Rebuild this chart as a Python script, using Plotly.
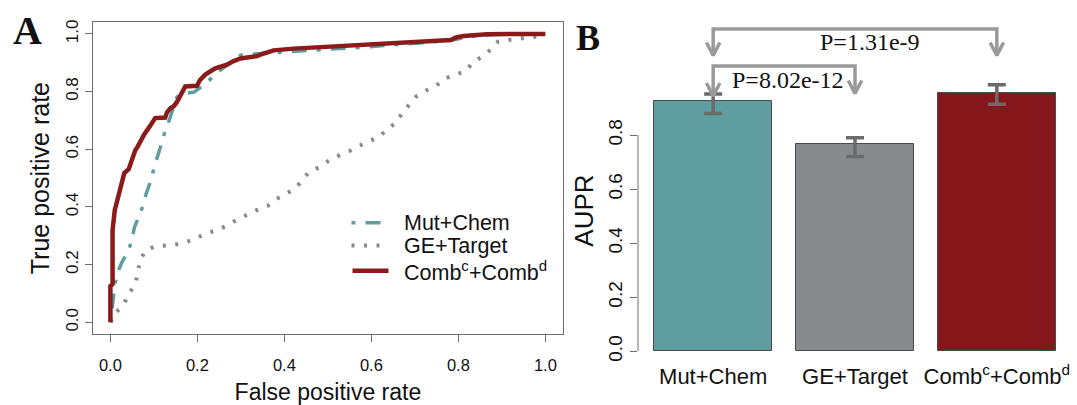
import plotly.graph_objects as go

# ---------------- data ----------------
# Panel A: ROC curves
fpr_mut = [0, 0.008, 0.011, 0.019, 0.027, 0.041, 0.05, 0.055, 0.065, 0.077, 0.082, 0.092, 0.101,
           0.106, 0.115, 0.126, 0.132, 0.153, 0.165, 0.192, 0.218, 0.245, 0.276, 0.299, 0.345,
           0.391, 0.437, 0.5, 0.575, 0.667, 0.782, 0.82, 0.88, 1.0]
tpr_mut = [0, 0.093, 0.138, 0.182, 0.21, 0.247, 0.289, 0.328, 0.369, 0.412, 0.445, 0.487, 0.54,
           0.568, 0.607, 0.664, 0.686, 0.781, 0.792, 0.798, 0.826, 0.865, 0.898, 0.926, 0.932,
           0.937, 0.94, 0.947, 0.953, 0.965, 0.977, 0.99, 0.998, 1.0]

fpr_ge = [0, 0.013, 0.031, 0.041, 0.057, 0.063, 0.069, 0.083, 0.107, 0.142, 0.169, 0.195, 0.218,
          0.244, 0.268, 0.29, 0.312, 0.336, 0.362, 0.381, 0.403, 0.425, 0.441, 0.457, 0.481,
          0.502, 0.525, 0.55, 0.572, 0.595, 0.619, 0.637, 0.657, 0.671, 0.687, 0.703, 0.725,
          0.748, 0.768, 0.792, 0.818, 0.833, 0.855, 0.874, 0.891, 0.92, 0.95, 0.981, 1.0]
tpr_ge = [0, 0.035, 0.061, 0.098, 0.129, 0.174, 0.219, 0.252, 0.265, 0.267, 0.276, 0.289, 0.308,
          0.319, 0.335, 0.355, 0.372, 0.389, 0.404, 0.427, 0.445, 0.464, 0.492, 0.523, 0.538,
          0.56, 0.578, 0.594, 0.612, 0.628, 0.644, 0.671, 0.692, 0.726, 0.755, 0.783, 0.803,
          0.819, 0.845, 0.859, 0.872, 0.902, 0.921, 0.945, 0.973, 0.98, 0.985, 0.991, 1.0]

fpr_comb = [0, 0, 0.005, 0.005, 0.01, 0.015, 0.023, 0.028, 0.032, 0.042, 0.046, 0.05, 0.057,
            0.063, 0.069, 0.078, 0.088, 0.096, 0.103, 0.126, 0.13, 0.138, 0.146, 0.153, 0.162,
            0.172, 0.199, 0.206, 0.218, 0.228, 0.241, 0.268, 0.282, 0.299, 0.337, 0.352, 0.375,
            0.421, 0.506, 0.575, 0.667, 0.782, 0.795, 0.812, 0.866, 1.0]
tpr_comb = [0, 0.126, 0.132, 0.319, 0.389, 0.417, 0.463, 0.49, 0.518, 0.531, 0.55, 0.563, 0.596,
            0.61, 0.63, 0.652, 0.674, 0.69, 0.708, 0.71, 0.728, 0.742, 0.75, 0.764, 0.79,
            0.818, 0.82, 0.84, 0.859, 0.868, 0.881, 0.893, 0.905, 0.915, 0.923, 0.932, 0.943,
            0.949, 0.956, 0.96, 0.971, 0.979, 0.988, 0.993, 0.999, 1.0]

roc_ticks = [0.0, 0.2, 0.4, 0.6, 0.8, 1.0]
roc_ticktext = ["0.0", "0.2", "0.4", "0.6", "0.8", "1.0"]

# Panel B: AUPR bars
bar_labels = ["Mut+Chem", "GE+Target", "Comb<sup>c</sup>+Comb<sup>d</sup>"]
aupr = [0.925, 0.768, 0.957]
err_plus = [0.027, 0.022, 0.029]
err_minus = [0.045, 0.047, 0.043]
aupr_ticks = [0.0, 0.2, 0.4, 0.6, 0.8]
aupr_ticktext = ["0.0", "0.2", "0.4", "0.6", "0.8"]
comparisons = [(0, 2, "P=1.31e-9"), (0, 1, "P=8.02e-12")]

# ---------------- style ----------------
W, H = 1077, 405
SANS = "Liberation Sans, Arial, Helvetica, sans-serif"
SERIF = "Liberation Serif, Times New Roman, serif"
TEAL = "#5F9EA0"
GREY = "#8a8a8a"
RED = "#8B1A1A"
AXC = "#6e6e6e"
ARROW = "#9a9a9a"
DOT_DASH = "4px,10px,15px,10px"
DOT = "3px,9.5px"


def fx(px):
    return px / W


def fy(py):
    return 1 - py / H


fig = go.Figure()

# ---- Panel A ----
fig.add_trace(go.Scatter(x=fpr_ge, y=tpr_ge, mode="lines", name="GE+Target",
                         line=dict(color=GREY, width=4, dash=DOT),
                         xaxis="x", yaxis="y", showlegend=False))
fig.add_trace(go.Scatter(x=fpr_mut, y=tpr_mut, mode="lines", name="Mut+Chem",
                         line=dict(color=TEAL, width=3.5, dash=DOT_DASH),
                         xaxis="x", yaxis="y", showlegend=False))
fig.add_trace(go.Scatter(x=fpr_comb, y=tpr_comb, mode="lines", name="Comb+Comb",
                         line=dict(color=RED, width=4.5),
                         xaxis="x", yaxis="y", showlegend=False))

# ---- Panel B ----
bar_x = [0.7 + 1.2 * i for i in range(len(aupr))]
fig.add_trace(go.Bar(x=bar_x, y=aupr, width=1.0,
                     marker=dict(color=[TEAL, "#878b8d", "#85161a"],
                                 line=dict(color="#4a4a4a", width=1)),
                     error_y=dict(type="data", symmetric=False, array=err_plus,
                                  arrayminus=err_minus, color="#6b6b6b",
                                  thickness=3.5, width=9),
                     xaxis="x2", yaxis="y2", showlegend=False))

# significance brackets
bracket_levels = {2: (1.193, 1.095, 1.095), 1: (1.056, 0.945, 0.954)}
dx, dy = 0.057, 0.048
bx, by = [], []
for i, j, lab in comparisons:
    top, tip_i, tip_j = bracket_levels[j]
    xi, xj = bar_x[i], bar_x[j]
    bx += [xi, xi, xj, xj, None]
    by += [tip_i, top, top, tip_j, None]
    for xx, tt in ((xi, tip_i), (xj, tip_j)):
        bx += [xx - dx, xx, xx + dx, None]
        by += [tt + dy, tt, tt + dy, None]
fig.add_trace(go.Scatter(x=bx, y=by, mode="lines",
                         line=dict(color=ARROW, width=3.5),
                         xaxis="x2", yaxis="y2", showlegend=False, hoverinfo="skip"))

annotations = [
    dict(text="<b>A</b>", x=fx(28), y=fy(29), xref="paper", yref="paper", showarrow=False,
         font=dict(family=SERIF, size=40, color="#111"), xanchor="center", yanchor="middle"),
    dict(text="<b>B</b>", x=fx(588), y=fy(37), xref="paper", yref="paper", showarrow=False,
         font=dict(family=SERIF, size=36, color="#111"), xanchor="center", yanchor="middle"),
    dict(text=comparisons[0][2], x=fx(870), y=fy(41), xref="paper", yref="paper",
         showarrow=False, font=dict(family=SERIF, size=24, color="#111"),
         xanchor="center", yanchor="middle"),
    dict(text=comparisons[1][2], x=fx(788), y=fy(80), xref="paper", yref="paper",
         showarrow=False, font=dict(family=SERIF, size=24, color="#111"),
         xanchor="center", yanchor="middle"),
    dict(text="AUPR", x=fx(584), y=fy(215), xref="paper", yref="paper", showarrow=False,
         textangle=-90, font=dict(family=SANS, size=26, color="#111"),
         xanchor="center", yanchor="middle"),
]

# manual legend for panel A
legend_rows = [("Mut+Chem", TEAL, DOT_DASH, 3.5, 227.5, 351.5, 383),
               ("GE+Target", GREY, DOT, 4, 251, 351.5, 389),
               ("Comb<sup>c</sup>+Comb<sup>d</sup>", RED, "solid", 4.5, 277, 352.5, 388.5)]
shapes = []
for text, col, dash, wd, py, x0, x1 in legend_rows:
    shapes.append(dict(type="line", xref="paper", yref="paper", x0=fx(x0), x1=fx(x1),
                       y0=fy(py), y1=fy(py), line=dict(color=col, width=wd, dash=dash)))
    annotations.append(dict(text=text, x=fx(402), y=fy(py), xref="paper", yref="paper",
                            showarrow=False, xanchor="left", yanchor="middle",
                            font=dict(family=SANS, size=21.5, color="#111")))

# R-style y axis line in panel B (only over tick range)
shapes.append(dict(type="line", xref="x2 domain", yref="y2", x0=0, x1=0, y0=0, y1=0.8,
                   line=dict(color=AXC, width=1)))

fig.update_layout(
    width=W, height=H,
    margin=dict(l=0, r=0, t=0, b=0),
    paper_bgcolor="white", plot_bgcolor="white",
    bargap=0,
    xaxis=dict(domain=[fx(93), fx(562.8)], range=[-0.04, 1.04], anchor="y",
               tickvals=roc_ticks, ticktext=roc_ticktext, ticks="outside", ticklen=7,
               tickcolor=AXC, showline=True, mirror=True, linecolor=AXC, linewidth=1,
               showgrid=False, zeroline=False, ticklabelstandoff=9,
               tickfont=dict(family=SANS, size=16.5, color="#111"),
               title=dict(text="False positive rate", standoff=11,
                          font=dict(family=SANS, size=23, color="#111"))),
    yaxis=dict(domain=[fy(342), fy(21)], range=[-0.04, 1.04], anchor="x",
               tickvals=roc_ticks, ticktext=roc_ticktext, ticks="outside", ticklen=7,
               tickcolor=AXC, showline=True, mirror=True, linecolor=AXC, linewidth=1,
               showgrid=False, zeroline=False, tickangle=-90,
               tickfont=dict(family=SANS, size=17, color="#111"),
               title=dict(text="True positive rate", standoff=6,
                          font=dict(family=SANS, size=25, color="#111"))),
    xaxis2=dict(domain=[fx(638), fx(1072)], range=[0.064, 3.736], anchor="y2",
                tickvals=bar_x, ticktext=bar_labels, ticks="", showline=False,
                showgrid=False, zeroline=False, ticklabelstandoff=10,
                tickfont=dict(family=SANS, size=22, color="#111")),
    yaxis2=dict(domain=[fy(360), 1.0], range=[0, 360 / 278.5], anchor="x2",
                tickvals=aupr_ticks, ticktext=aupr_ticktext, ticks="outside", ticklen=7,
                tickcolor=AXC, showline=False, showgrid=False, zeroline=False,
                tickangle=-90,
                tickfont=dict(family=SANS, size=19, color="#111")),
    annotations=annotations,
    shapes=shapes,
)

fig.write_html("out.html")
